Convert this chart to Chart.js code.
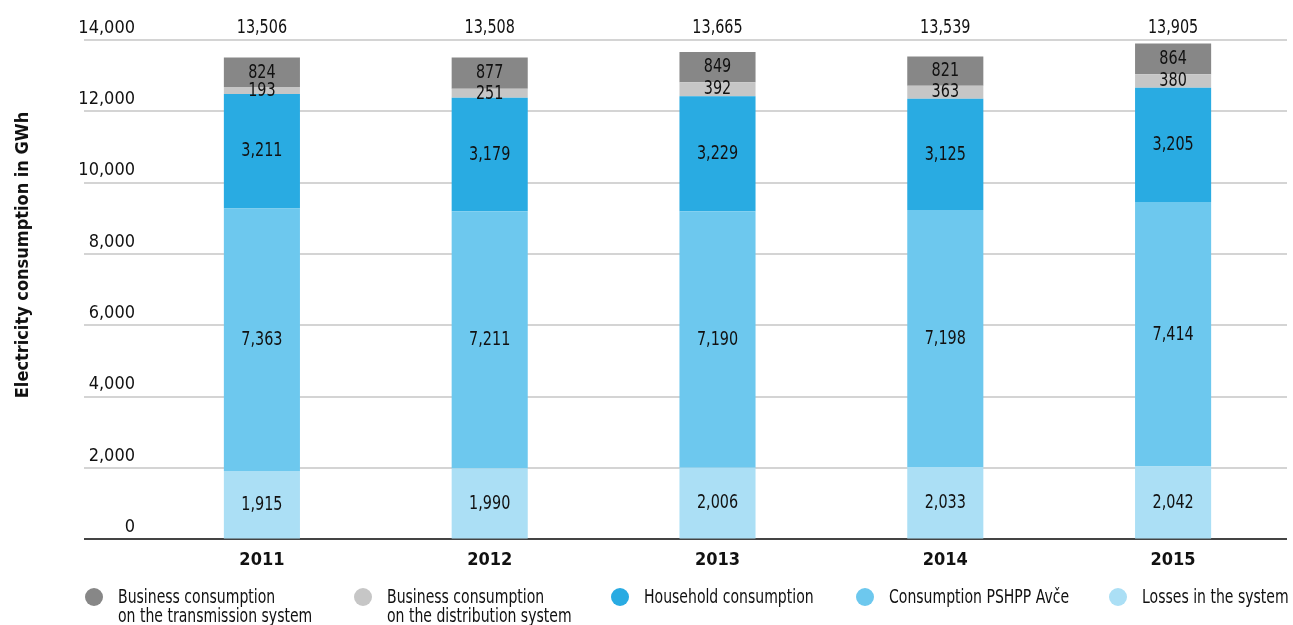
<!DOCTYPE html>
<html lang="en">
<head>
<meta charset="UTF-8">
<title>Electricity consumption</title>
<script src="https://cdn.jsdelivr.net/npm/chart.js"></script>
<style>
  html, body { margin: 0; padding: 0; background: #fff; }
  #wrap { position: relative; width: 1293px; height: 625px; overflow: hidden;
          font-family: "DejaVu Sans Condensed", "DejaVu Sans", sans-serif; color: #111; }
  #ytitle { position: absolute; left: 22px; top: 255px; width: 400px; margin-left: -200px;
            text-align: center; font-size: 18px; font-weight: bold; line-height: 22px;
            transform: translateY(-11px) rotate(-90deg); white-space: nowrap; }
  #legend { position: absolute; left: 0; top: 587px; width: 1293px; height: 40px;
            font-size: 20px; line-height: 19px; }
  .item { position: absolute; top: 0; white-space: pre; }
  .txt { display: inline-block; transform: scaleX(0.78); transform-origin: 0 0; }
  .dot { position: absolute; top: 1px; width: 18px; height: 18px; border-radius: 50%; }
</style>
</head>
<body>
<div id="wrap">
  <canvas id="chart" width="1293" height="625"></canvas>
  <div id="ytitle">Electricity consumption in GWh</div>
  <div id="legend"></div>
</div>

<script>
const years = ["2011", "2012", "2013", "2014", "2015"];
const losses = [1915, 1990, 2006, 2033, 2042];
const pshpp = [7363, 7211, 7190, 7198, 7414];
const household = [3211, 3179, 3229, 3125, 3205];
const businessDist = [193, 251, 392, 363, 380];
const businessTrans = [824, 877, 849, 821, 864];
const totals = [13506, 13508, 13665, 13539, 13905];
const yTicks = [0, 2000, 4000, 6000, 8000, 10000, 12000, 14000];

const FONT = '"DejaVu Sans Condensed", "DejaVu Sans", sans-serif';
const fmt = v => v.toLocaleString("en-US");

// bottom to top in the stack
const series = [
    { label: "Losses in the system", data: losses, color: "#abdff5" },
    { label: "Consumption PSHPP Avče", data: pshpp, color: "#6dc8ee" },
    { label: "Household consumption", data: household, color: "#29abe2" },
    { label: "Business consumption\non the distribution system", data: businessDist, color: "#c6c6c6" },
    { label: "Business consumption\non the transmission system", data: businessTrans, color: "#878787" }
];

// narrow text, like the condensed face of the original
function narrowText(ctx, text, x, y) {
    ctx.fillText(text, x, y, ctx.measureText(text).width * 0.8);
}

const valueLabels = {
    id: "valueLabels",
    afterDatasetsDraw(chart) {
        const ctx = chart.ctx;
        ctx.save();
        ctx.font = "20px " + FONT;
        ctx.fillStyle = "#111";
        ctx.textAlign = "center";
        ctx.textBaseline = "middle";
        chart.data.datasets.forEach((ds, di) => {
            chart.getDatasetMeta(di).data.forEach((el, i) => {
                narrowText(ctx, fmt(ds.data[i]), el.x, (el.y + el.base) / 2);
            });
        });
        // totals above the bars
        const top = chart.getDatasetMeta(0).data;
        totals.forEach((t, i) => {
            narrowText(ctx, fmt(t), top[i].x, chart.chartArea.top - 12);
        });
        ctx.restore();
    }
};

new Chart(document.getElementById("chart"), {
    type: "bar",
    data: {
        labels: years,
        datasets: series.map(s => ({
            label: s.label,
            data: s.data,
            backgroundColor: s.color,
            borderWidth: 0,
            barPercentage: 0.334,
            categoryPercentage: 1
        }))
    },
    options: {
        responsive: false,
        animation: false,
        events: [],
        layout: { padding: { top: 40, right: 6, bottom: 44, left: 0 } },
        plugins: { legend: { display: false }, tooltip: { enabled: false } },
        scales: {
            x: {
                stacked: true,
                grid: { display: false, drawTicks: false },
                border: { display: false },
                ticks: { color: "#111", padding: 10, font: { family: FONT, size: 18, weight: "bold" } }
            },
            y: {
                stacked: true,
                min: 0,
                max: 14000,
                afterFit: s => { s.width = 148; },
                afterBuildTicks: s => { s.ticks = yTicks.map(v => ({ value: v })); },
                border: { display: false },
                grid: {
                    drawTicks: true,
                    tickLength: 64,
                    color: c => c.tick && c.tick.value === 0 ? "#444" : "#d4d4d4",
                    lineWidth: 2
                },
                ticks: {
                    padding: -51,
                    labelOffset: -12,
                    color: "#111",
                    font: { family: FONT, size: 18 },
                    callback: v => fmt(v)
                }
            }
        }
    },
    plugins: [valueLabels]
});

// legend, in the reference order (top of stack first)
const legendX = [94, 363, 620, 865, 1118];
const legend = document.getElementById("legend");
series.slice().reverse().forEach((s, i) => {
    const item = document.createElement("div");
    item.className = "item";
    item.style.left = (legendX[i] + 24) + "px";
    const txt = document.createElement("span");
    txt.className = "txt";
    txt.textContent = s.label;
    const dot = document.createElement("span");
    dot.className = "dot";
    dot.style.background = s.color;
    dot.style.left = "-33px";
    item.appendChild(dot);
    item.appendChild(txt);
    legend.appendChild(item);
});
</script>
</body>
</html>
